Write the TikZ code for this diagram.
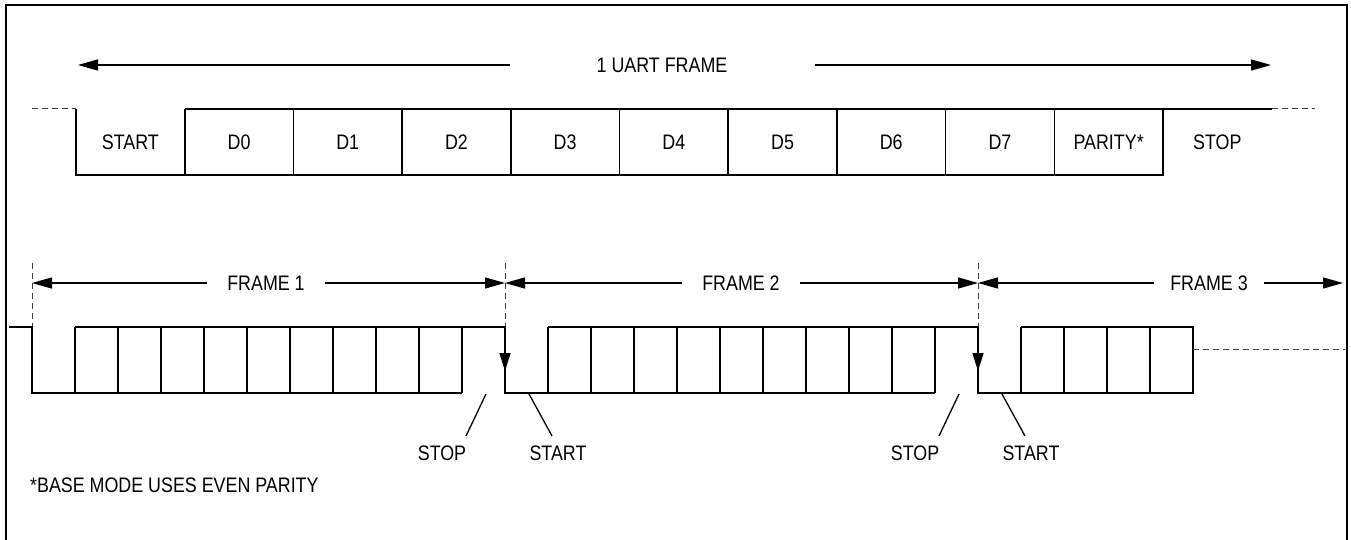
\documentclass[tikz,border=0pt]{standalone}
\usepackage{fontspec}
\setmainfont{Liberation Sans}[FakeStretch=0.85]
\usetikzlibrary{arrows.meta}
\begin{document}
\begin{tikzpicture}[x=1pt,y=-1pt,
  sig/.style={line width=1.6pt, line join=miter},
  dsh/.style={line width=1pt, dash pattern=on 6pt off 4pt, black!75},
  dimline/.style={line width=1.4pt},
  tip/.style={-{Triangle[length=20pt,width=11pt]}},
  downtip/.style={-{Triangle[length=18pt,width=11pt]}},
  lbl/.style={font=\fontsize{21}{25}\selectfont, inner sep=0pt},
  lead/.style={line width=1.3pt}]
\useasboundingbox (0,0) rectangle (1351,540);
% border
\draw[line width=2.5pt] (6,540) -- (6,5) -- (1347,5) -- (1347,540);

% ---------- top: 1 UART FRAME ----------
\coordinate (ua) at (78,65);
\coordinate (ub) at (1271,65);
\node[lbl, inner xsep=87pt] (uart) at (662,65) {1 UART FRAME};
\draw[dimline,tip] (uart.west) -- (ua);
\draw[dimline,tip] (uart.east) -- (ub);

% top waveform
\draw[dsh] (32,109) -- (76,109);
\draw[sig] (76,109) -- (76,175) -- (1163,175) -- (1163,109);
\draw[sig] (184.7,109) -- (1272,109);
\draw[dsh] (1272,109) -- (1315,109);
\foreach \k in {1,...,9}
  \draw[sig] ({76+108.7*\k},109) -- ({76+108.7*\k},175);
\foreach \t [count=\i from 0] in {START,D0,D1,D2,D3,D4,D5,D6,D7,PARITY*,STOP}
  \node[lbl] (tb\i) at ({76+108.7*\i+54.35},142) {\t};

% ---------- bottom: frames ----------
\foreach \x in {32,505,978}
  \draw[dsh] (\x,263) -- (\x,327);

\coordinate (f1a) at (32,283);
\coordinate (f1b) at (505,283);
\coordinate (f2a) at (505,283);
\coordinate (f2b) at (978,283);
\coordinate (f3a) at (978,283);
\coordinate (f3b) at (1343,283);
\node[lbl, inner xsep=20pt] (fr1) at (266,283) {FRAME 1};
\node[lbl, inner xsep=20pt] (fr2) at (741,283) {FRAME 2};
\node[lbl, inner xsep=16pt] (fr3) at (1209,283) {FRAME 3};
\draw[dimline,tip] (fr1.west) -- (f1a);
\draw[dimline,tip] (fr1.east) -- (f1b);
\draw[dimline,tip] (fr2.west) -- (f2a);
\draw[dimline,tip] (fr2.east) -- (f2b);
\draw[dimline,tip] (fr3.west) -- (f3a);
\draw[dimline,tip] (fr3.east) -- (f3b);

% bottom waveform
\draw[sig] (9,327) -- (32,327) -- (32,393) -- (462,393);
\draw[sig] (75,327) -- (505,327) -- (505,393) -- (935,393);
\draw[sig] (548,327) -- (978,327) -- (978,393) -- (1193,393) -- (1193,327) -- (1021,327);
\foreach \k in {0,...,9} {
  \draw[sig] ({75+43*\k},327) -- ({75+43*\k},393);
  \draw[sig] ({548+43*\k},327) -- ({548+43*\k},393);
}
\foreach \k in {0,...,3}
  \draw[sig] ({1021+43*\k},327) -- ({1021+43*\k},393);
\draw[dsh] (1193,349) -- (1345,349);
% falling-edge arrows
\draw[sig,downtip] (505,327) -- (505,371);
\draw[sig,downtip] (978,327) -- (978,371);

% STOP / START labels
\node[lbl] (stop1) at (442,453) {STOP};
\node[lbl] (start1) at (558,453) {START};
\node[lbl] (stop2) at (915,453) {STOP};
\node[lbl] (start2) at (1031,453) {START};
\coordinate (p1a) at (486,394); \coordinate (p1b) at (466,436);
\coordinate (q1a) at (529,394); \coordinate (q1b) at (552,436);
\coordinate (p2a) at (959,394); \coordinate (p2b) at (939,436);
\coordinate (q2a) at (1002,394); \coordinate (q2b) at (1025,436);
\draw[lead] (p1a) -- (p1b);
\draw[lead] (q1a) -- (q1b);
\draw[lead] (p2a) -- (p2b);
\draw[lead] (q2a) -- (q2b);

% footnote
\node[lbl, anchor=west] (note) at (30,485) {*BASE MODE USES EVEN PARITY};
\end{tikzpicture}
\end{document}
